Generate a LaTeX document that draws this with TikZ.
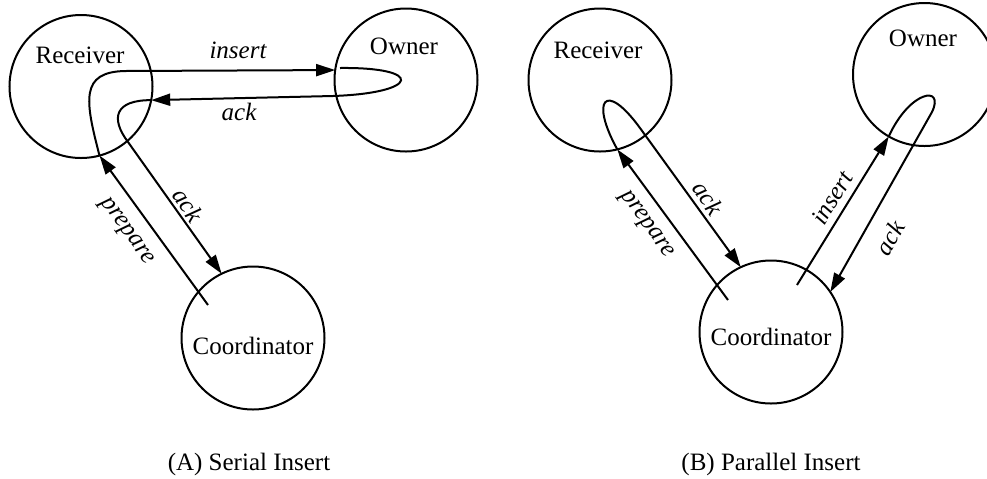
\documentclass[tikz,border=0pt]{standalone}
\usepackage{fontspec}
\setmainfont{Liberation Serif}
\usetikzlibrary{arrows.meta}

\tikzset{
  site/.style={circle, draw, line width=1pt, minimum size=71.5pt, inner sep=0pt, outer sep=0pt},
  msg/.style={line width=1pt, -{Triangle[length=9.5pt,width=6pt]}},
  lbl/.style={font=\fontsize{12.5}{14}\selectfont\itshape},
}

\begin{document}
\begin{tikzpicture}[x=0.5pt, y=-0.5pt, font=\fontsize{12.5}{14}\selectfont]
    \useasboundingbox (0,0) rectangle (987,478);
    % (A) serial insert
    \node[site] (rcvA) at (81,86.5) {};
    \node[site] (ownA) at (406,80) {};
    \node[site] (crdA) at (253,338) {};
    \node (rcvAname) at (80,55) {Receiver};
    \node (ownAname) at (404,46) {Owner};
    \node (crdAname) at (253,346) {Coordinator};
    \coordinate (prepA) at (208,305);
    \coordinate (ackAsrc) at (340,68);
    \draw[msg] (prepA) -- (rcvA.-75);
    \draw[msg] (rcvA.-75) .. controls (85,100) and (80,72) .. (125,71) -- (ownA.172);
    \draw[msg] (ackAsrc) .. controls (425,67) and (420,93) .. (333,96) -- (rcvA.-11);
    \draw[msg] (rcvA.-11) .. controls (115,100) and (110,118) .. (128,142) -- (crdA.116);
    \node[lbl] (insAlbl) at (238,50) {insert};
    \node[lbl] (ackAlbl) at (239,112) {ack};
    \node[lbl, rotate=-55] (ackAlbl2) at (188,205) {ack};
    \node[lbl, rotate=-54] (prepAlbl) at (126,232) {prepare};
    \node (capA) at (249,464) {(A) Serial Insert};
    % (B) parallel insert
    \node[site] (rcvB) at (600,80) {};
    \node[site] (ownB) at (924.5,74.5) {};
    \node[site] (crdB) at (771,332) {};
    \node (rcvBname) at (598,50) {Receiver};
    \node (ownBname) at (923,38) {Owner};
    \node (crdBname) at (771,337) {Coordinator};
    \coordinate (prepB) at (728,300);
    \coordinate (insB) at (797,285);
    \draw[msg] (prepB) -- (rcvB.-76);
    \draw[msg] (rcvB.-76) .. controls (590,100) and (605,80) .. (640,128) -- (crdB.115);
    \draw[msg] (insB) -- (ownB.240);
    \draw[msg] (ownB.240) .. controls (910,90) and (945,85) .. (932,112) -- (crdB.34);
    \node[lbl, rotate=-55] (ackBlbl) at (708,198) {ack};
    \node[lbl, rotate=-54] (prepBlbl) at (646,225) {prepare};
    \node[lbl, rotate=59] (insBlbl) at (832,198) {insert};
    \node[lbl, rotate=60] (ackBlbl2) at (890,238) {ack};
    \node (capB) at (771,464) {(B) Parallel Insert};
\end{tikzpicture}
\end{document}
